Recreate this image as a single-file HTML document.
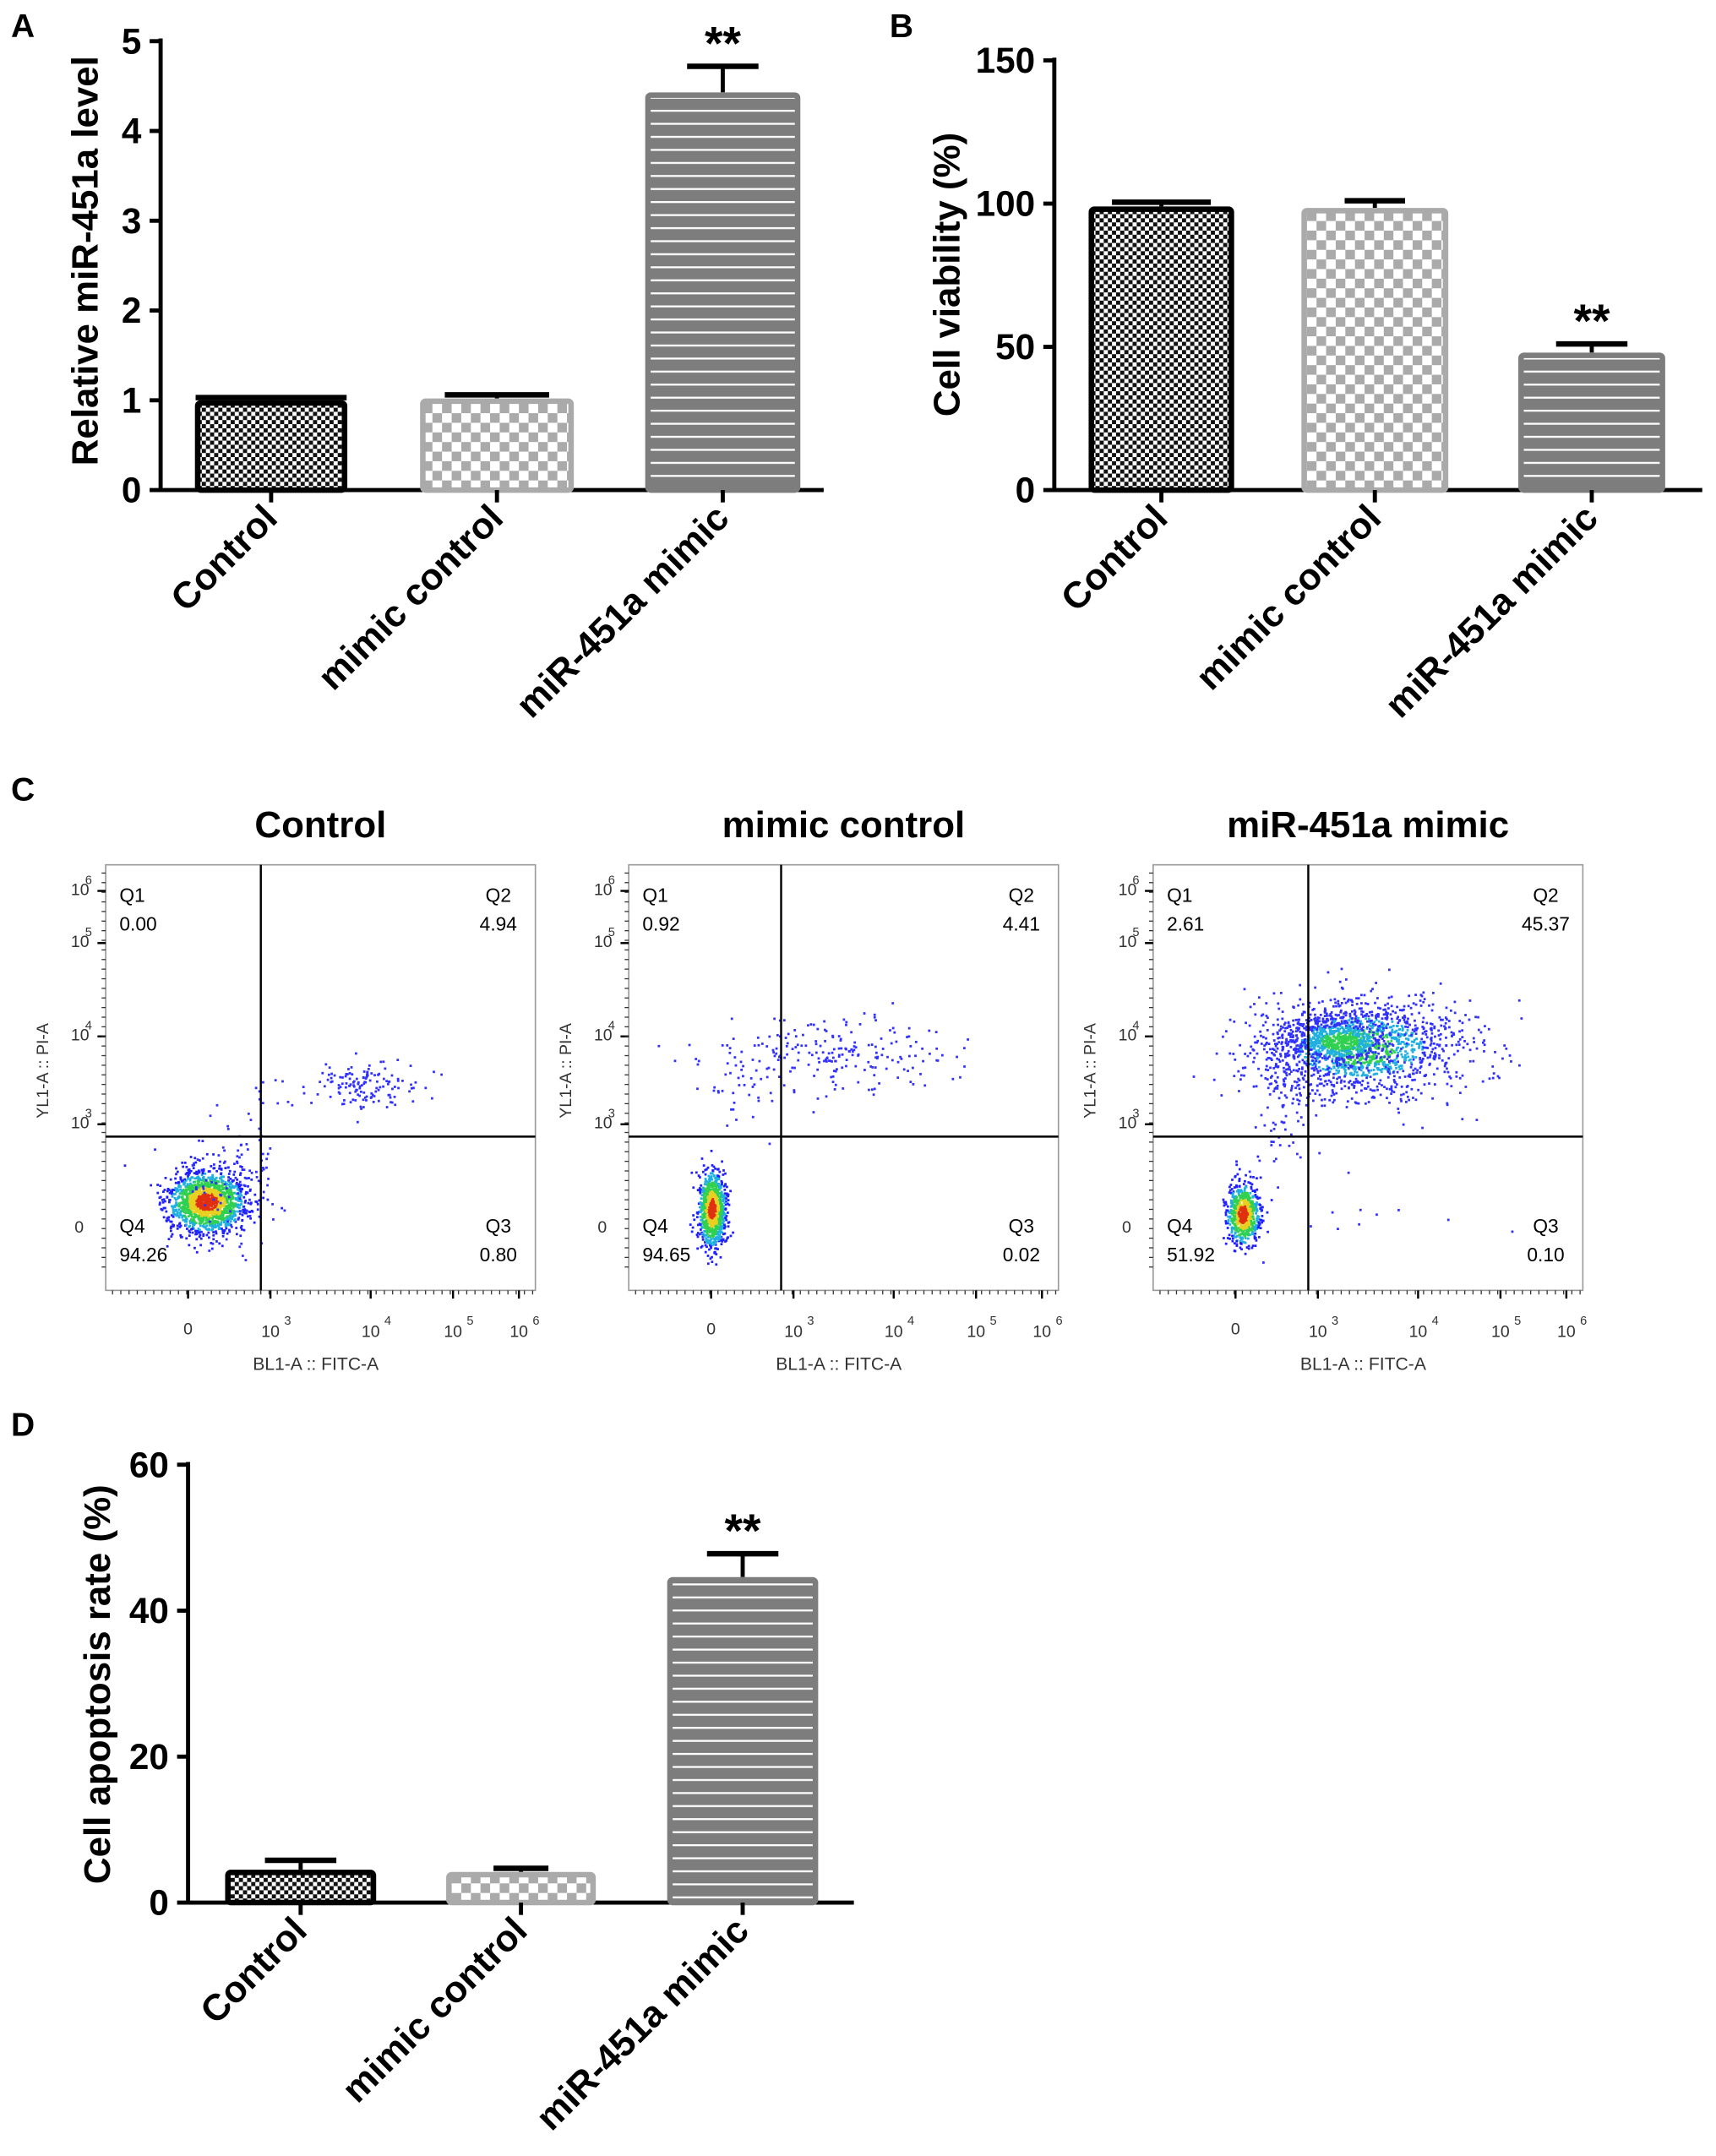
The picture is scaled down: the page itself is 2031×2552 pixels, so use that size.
<!DOCTYPE html>
<html><head><meta charset="utf-8"><style>
html,body{margin:0;padding:0;background:#fff}
svg{display:block}
text{font-family:"Liberation Sans",Arial,sans-serif}
.b{font-weight:bold}
</style></head><body>
<svg id="s" xmlns="http://www.w3.org/2000/svg" width="2031" height="2552" viewBox="0 0 1250 1570.6" preserveAspectRatio="none">
<defs>
<pattern id="pk" width="6" height="6" patternUnits="userSpaceOnUse"><rect width="6" height="6" fill="#fff"/><rect width="3" height="3" fill="#111"/><rect x="3" y="3" width="3" height="3" fill="#111"/></pattern>
<pattern id="pg" width="14" height="14" patternUnits="userSpaceOnUse"><rect width="14" height="14" fill="#fff"/><rect width="7" height="7" fill="#aaa"/><rect x="7" y="7" width="7" height="7" fill="#aaa"/></pattern>
<pattern id="ps" width="10" height="9.5" patternUnits="userSpaceOnUse"><rect width="10" height="9.5" fill="#7d7d7d"/><rect y="4" width="10" height="1.4" fill="#fff"/></pattern>
</defs>
<g id="root"></g>
</svg>
<script>
const R=document.getElementById('root');let h='';
function t(x,y,s,sz,a,ex){h+=`<text x="${x}" y="${y}" font-size="${sz}" ${a||''} ${ex||''}>${s}</text>`;}
function bars(o){
 const {ax,y0,yt,vmax,step,xend,bars,lab,labY,ylab}=o;
 const sc=(y0-yt)/vmax;const Y=v=>y0-v*sc;
 h+=`<line x1="${ax}" y1="${yt-2}" x2="${ax}" y2="${y0}" stroke="#000" stroke-width="3"/>`;
 h+=`<line x1="${ax-1.5}" y1="${y0}" x2="${xend}" y2="${y0}" stroke="#000" stroke-width="3"/>`;
 for(let v=0;v<=vmax+1e-9;v+=step){h+=`<line x1="${ax-8}" y1="${Y(v)}" x2="${ax}" y2="${Y(v)}" stroke="#000" stroke-width="3"/>`;t(ax-14,Y(v)+9,v,26,'text-anchor="end" class="b"');}
 bars.forEach(b=>{
  const fill=b.p, st=b.p=='url(#pk)'?'#000':(b.p=='url(#pg)'?'#aaa':'#7d7d7d');
  const cx=(b.x1+b.x2)/2;
  h+=`<line x1="${cx}" y1="${Y(b.v)}" x2="${cx}" y2="${Y(b.e)}" stroke="#000" stroke-width="3"/>`;
  h+=`<line x1="${cx-(b.w||26)}" y1="${Y(b.e)}" x2="${cx+(b.w||26)}" y2="${Y(b.e)}" stroke="#000" stroke-width="4"/>`;
  h+=`<rect x="${b.x1+2}" y="${Y(b.v)+2}" width="${b.x2-b.x1-4}" height="${y0-Y(b.v)-2}" fill="${fill}" stroke="${st}" stroke-width="4" rx="2"/>`;
  h+=`<line x1="${cx}" y1="${y0}" x2="${cx}" y2="${y0+9}" stroke="#000" stroke-width="3"/>`;
  if(b.star) t(cx,Y(b.e)-5,'**',34,'text-anchor="middle" class="b"');
  t(cx+6,y0+22,b.n,27,'text-anchor="end" class="b"',`transform="rotate(-45 ${cx+6} ${y0+22})"`);
 });
 t(labY[0],labY[1],ylab,27,'text-anchor="middle" class="b"',`transform="rotate(-90 ${labY[0]} ${labY[1]})"`);
}
t(8,27,'A',24,'class="b"');t(648,27,'B',24,'class="b"');t(8,583,'C',24,'class="b"');t(8,1046,'D',24,'class="b"');
bars({ax:117,y0:357,yt:30,vmax:5,step:1,xend:600,labY:[71,190],ylab:'Relative miR-451a level',bars:[
 {x1:142,x2:253,v:1.0,e:1.03,p:'url(#pk)',n:'Control',w:55},
 {x1:306,x2:418,v:1.02,e:1.06,p:'url(#pg)',n:'mimic control',w:38},
 {x1:470,x2:583,v:4.43,e:4.72,p:'url(#ps)',n:'miR-451a mimic',star:1}]});
bars({ax:768,y0:357,yt:44,vmax:150,step:50,xend:1240,labY:[699,200],ylab:'Cell viability (%)',bars:[
 {x1:793,x2:899,v:99,e:100.5,p:'url(#pk)',n:'Control',w:36},
 {x1:948,x2:1055,v:98.5,e:101,p:'url(#pg)',n:'mimic control',w:22},
 {x1:1106,x2:1213,v:48,e:51,p:'url(#ps)',n:'miR-451a mimic',star:1}]});
bars({ax:137,y0:1386,yt:1067,vmax:60,step:20,xend:622,labY:[80,1227],ylab:'Cell apoptosis rate (%)',bars:[
 {x1:164,x2:274,v:4.5,e:5.8,p:'url(#pk)',n:'Control'},
 {x1:325,x2:434,v:4.2,e:4.7,p:'url(#pg)',n:'mimic control',w:20},
 {x1:486,x2:596,v:44.6,e:47.8,p:'url(#ps)',n:'miR-451a mimic',star:1}]});
let seed=7;function rnd(){seed=(seed*16807)%2147483647;return seed/2147483647;}
function g(){return Math.sqrt(-2*Math.log(rnd()+1e-9))*Math.cos(2*Math.PI*rnd());}
const fp=[
 {o:0,title:'Control',q:['0.00','4.94','0.80','94.26'],vx:113,c:[150,875,14,11,1600],q2:[[268,790,18,8,130],[225,792,30,10,20]],extra:[[172,858,15,22,100]]},
 {o:381,title:'mimic control',q:['0.92','4.41','0.02','94.65'],vx:111,c:[518,880,5,14,900],q2:[[605,768,40,14,220],[540,795,10,16,25]],extra:[]},
 {o:763,title:'miR-451a mimic',q:['2.61','45.37','0.10','51.92'],vx:113,c:[905,884,6,11,700],q2:[[990,762,38,18,1500],[975,758,20,9,700],[935,810,10,18,60]],extra:[[1000,880,50,20,12]]}];
fp.forEach(p=>{
 const L=77+p.o,Rr=L+313,T=630,B=940,vx=L+p.vx,hy=828;
 t((L+Rr)/2,610,p.title,27,'text-anchor="middle" class="b"');
 let d='';
 const dot=(x,y,c)=>{if(x>L+2&&x<Rr-2&&y>T+2&&y<B-2)d+=`<rect x="${x.toFixed(1)}" y="${y.toFixed(1)}" width="1.7" height="1.7" fill="${c}"/>`;};
 const [cx,cy,sx,sy,n]=p.c;
 for(let i=0;i<n;i++){const a=g(),b=g();const r=Math.sqrt(a*a+b*b);const col=r<0.6?'#e03010':r<1.0?'#e8d020':r<1.5?'#30d050':r<1.9?'#20b0e0':'#2020ff';dot(cx+a*sx,cy+b*sy,col);}
 p.q2.concat(p.extra).forEach(([x,y,a,b,m])=>{for(let i=0;i<m;i++){const u=g(),v=g();const r=Math.sqrt(u*u+v*v);const col=(m>600&&r<0.7)?'#30d050':(m>600&&r<1.2)?'#20b0e0':'#3030ff';dot(x+u*a,y+v*b,col);}});
 h+=d;
 h+=`<rect x="${L}" y="${T}" width="${Rr-L}" height="${B-T}" fill="none" stroke="#999" stroke-width="1"/>`;
 h+=`<line x1="${vx}" y1="${T}" x2="${vx}" y2="${B}" stroke="#000" stroke-width="1.5"/><line x1="${L}" y1="${hy}" x2="${Rr}" y2="${hy}" stroke="#000" stroke-width="1.5"/>`;
 t(L+10,657,'Q1',14);t(L+10,678,p.q[0],14);t(Rr-27,657,'Q2',14,'text-anchor="middle"');t(Rr-27,678,p.q[1],14,'text-anchor="middle"');
 t(L+10,898,'Q4',14);t(L+10,919,p.q[3],14);t(Rr-27,898,'Q3',14,'text-anchor="middle"');t(Rr-27,919,p.q[2],14,'text-anchor="middle"');
 const ys=[[647,'6'],[685,'5'],[753,'4'],[817,'3']];
 ys.forEach(([y,e])=>{t(L-12,y+5,'10',12,'text-anchor="end" fill="#333"');t(L-10,y-3,e,9,'text-anchor="end" fill="#333"');h+=`<line x1="${L-6}" y1="${y+2}" x2="${L}" y2="${y+2}" stroke="#000" stroke-width="1.5"/>`;});
 for(let y=636;y<925;y+=7)h+=`<line x1="${L-3}" y1="${y}" x2="${L}" y2="${y}" stroke="#333" stroke-width="0.8"/>`;
 t(L-16,898,'0',12,'text-anchor="end" fill="#333"');
 t(L-42,780,'YL1-A :: PI-A',12,'text-anchor="middle" fill="#333"',`transform="rotate(-90 ${L-42} 780)"`);
 const xs=[[60,'0'],[120,'3'],[193,'4'],[253,'5'],[301,'6']];
 xs.forEach(([x,e],i)=>{if(i==0)t(L+x,972,'0',12,'text-anchor="middle" fill="#333"');else{t(L+x,974,'10',12,'text-anchor="middle" fill="#333"');t(L+x+10,965,e,9,'fill="#333"');}h+=`<line x1="${L+x}" y1="${B}" x2="${L+x}" y2="${B+6}" stroke="#000" stroke-width="1.5"/>`;});
 for(let x=L+5;x<Rr;x+=6)h+=`<line x1="${x}" y1="${B}" x2="${x}" y2="${B+3}" stroke="#333" stroke-width="0.8"/>`;
 t(L+153,998,'BL1-A :: FITC-A',13,'text-anchor="middle" fill="#333"');
});
R.innerHTML=h;
</script>
</body></html>
